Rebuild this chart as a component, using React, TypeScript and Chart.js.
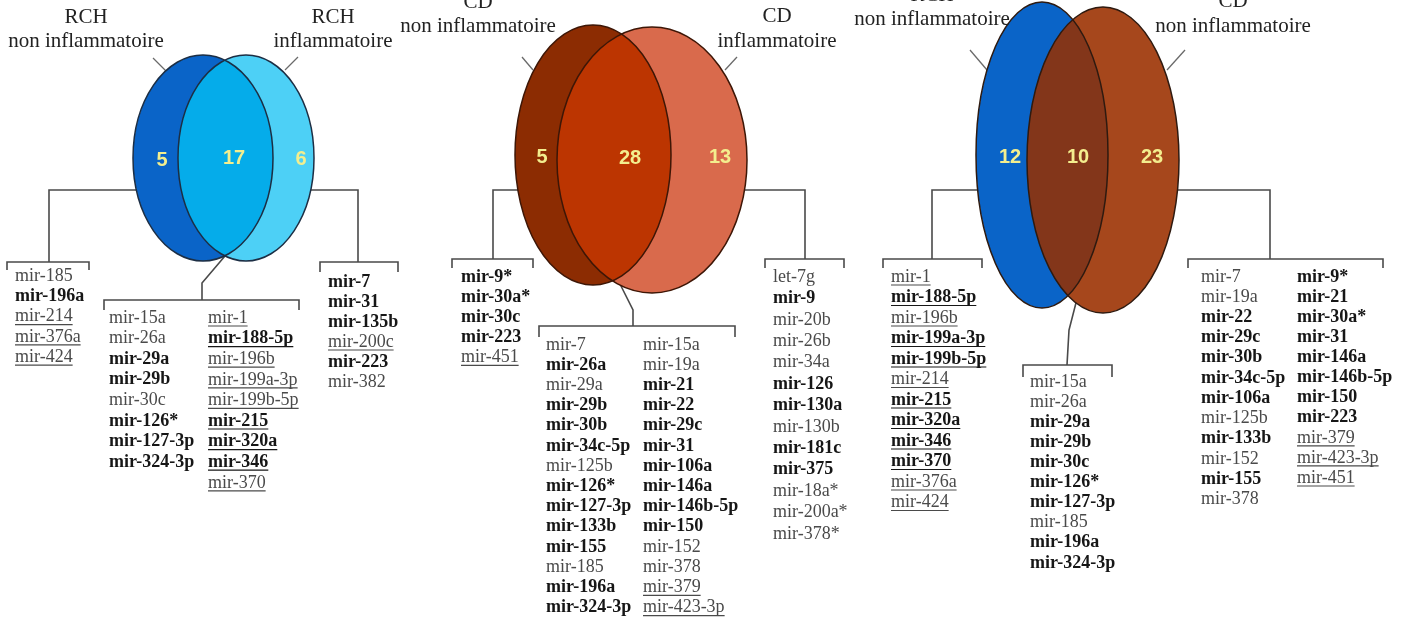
import React, { useEffect, useRef } from "react";
import { Chart, registerables } from "chart.js";
Chart.register(...registerables);

// ---------- DATA ----------
// region counts: [only A, A∩B, only B]
const p1Counts = [5, 17, 6];
const p2Counts = [5, 28, 13];
const p3Counts = [12, 10, 23];

const p1SetA = ["RCH", "non inflammatoire"];
const p1SetB = ["RCH", "inflammatoire"];
const p2SetA = ["CD", "non inflammatoire"];
const p2SetB = ["CD", "inflammatoire"];
const p3SetA = ["RCH", "non inflammatoire"];
const p3SetB = ["CD", "non inflammatoire"];

// style prefix: n = normal, b = bold, u = underlined, B = bold underlined
const p1OnlyA = ["n:mir-185", "b:mir-196a", "u:mir-214", "u:mir-376a", "u:mir-424"];
const p1BothCol1 = ["n:mir-15a", "n:mir-26a", "b:mir-29a", "b:mir-29b", "n:mir-30c", "b:mir-126*", "b:mir-127-3p", "b:mir-324-3p"];
const p1BothCol2 = ["u:mir-1", "B:mir-188-5p", "u:mir-196b", "u:mir-199a-3p", "u:mir-199b-5p", "B:mir-215", "B:mir-320a", "B:mir-346", "u:mir-370"];
const p1OnlyB = ["b:mir-7", "b:mir-31", "b:mir-135b", "u:mir-200c", "b:mir-223", "n:mir-382"];

const p2OnlyA = ["b:mir-9*", "b:mir-30a*", "b:mir-30c", "b:mir-223", "u:mir-451"];
const p2BothCol1 = ["n:mir-7", "b:mir-26a", "n:mir-29a", "b:mir-29b", "b:mir-30b", "b:mir-34c-5p", "n:mir-125b", "b:mir-126*", "b:mir-127-3p", "b:mir-133b", "b:mir-155", "n:mir-185", "b:mir-196a", "b:mir-324-3p"];
const p2BothCol2 = ["n:mir-15a", "n:mir-19a", "b:mir-21", "b:mir-22", "b:mir-29c", "b:mir-31", "b:mir-106a", "b:mir-146a", "b:mir-146b-5p", "b:mir-150", "n:mir-152", "n:mir-378", "u:mir-379", "u:mir-423-3p"];
const p2OnlyB = ["n:let-7g", "b:mir-9", "n:mir-20b", "n:mir-26b", "n:mir-34a", "b:mir-126", "b:mir-130a", "n:mir-130b", "b:mir-181c", "b:mir-375", "n:mir-18a*", "n:mir-200a*", "n:mir-378*"];

const p3OnlyA = ["u:mir-1", "B:mir-188-5p", "u:mir-196b", "B:mir-199a-3p", "B:mir-199b-5p", "u:mir-214", "B:mir-215", "B:mir-320a", "B:mir-346", "B:mir-370", "u:mir-376a", "u:mir-424"];
const p3Both = ["n:mir-15a", "n:mir-26a", "b:mir-29a", "b:mir-29b", "b:mir-30c", "b:mir-126*", "b:mir-127-3p", "n:mir-185", "b:mir-196a", "b:mir-324-3p"];
const p3OnlyBCol1 = ["n:mir-7", "n:mir-19a", "b:mir-22", "b:mir-29c", "b:mir-30b", "b:mir-34c-5p", "b:mir-106a", "n:mir-125b", "b:mir-133b", "n:mir-152", "b:mir-155", "n:mir-378"];
const p3OnlyBCol2 = ["b:mir-9*", "b:mir-21", "b:mir-30a*", "b:mir-31", "b:mir-146a", "b:mir-146b-5p", "b:mir-150", "b:mir-223", "u:mir-379", "u:mir-423-3p", "u:mir-451"];

// ---------- LAYOUT (positions / styles) ----------
type Pt = [number, number];
const panels = [
  {
    counts: p1Counts, labelA: p1SetA, labelB: p1SetB,
    ellA: { cx: 203, cy: 158, rx: 70, ry: 103 }, ellB: { cx: 246, cy: 158, rx: 68, ry: 103 },
    colA: "#0A64C8", colAB: "#05ACEA", colB: "#4DD0F6", stroke: "#1c2e44",
    countPos: [[162, 160], [234, 158], [301, 159]] as Pt[],
    labA: { x: 86, y1: 23, y2: 47 }, labB: { x: 333, y1: 23, y2: 47 },
    leadA: [[153, 58], [166, 71]] as Pt[], leadB: [[298, 57], [285, 70]] as Pt[],
    groups: [
      { conn: [[140, 190], [49, 190], [49, 262]] as Pt[], br: { x1: 7, x2: 89, y: 262, t: 8 }, cols: [{ x: 15, y0: 276, step: 20.3, items: p1OnlyA }] },
      { conn: [[305, 190], [358, 190], [358, 262]] as Pt[], br: { x1: 320, x2: 398, y: 262, t: 10 }, cols: [{ x: 328, y0: 282, step: 20, items: p1OnlyB }] },
      { conn: [[225, 256], [202, 283], [202, 300]] as Pt[], br: { x1: 104, x2: 299, y: 300, t: 10 }, cols: [{ x: 109, y0: 318, step: 20.6, items: p1BothCol1 }, { x: 208, y0: 318, step: 20.6, items: p1BothCol2 }] },
    ],
  },
  {
    counts: p2Counts, labelA: p2SetA, labelB: p2SetB,
    ellA: { cx: 593, cy: 155, rx: 78, ry: 130 }, ellB: { cx: 652, cy: 160, rx: 95, ry: 133 },
    colA: "#8C2C02", colAB: "#BC3501", colB: "#D96A4C", stroke: "#3d1606",
    countPos: [[542, 157], [630, 158], [720, 157]] as Pt[],
    labA: { x: 478, y1: 8, y2: 32 }, labB: { x: 777, y1: 22, y2: 47 },
    leadA: [[522, 57], [533, 70]] as Pt[], leadB: [[737, 57], [725, 70]] as Pt[],
    groups: [
      { conn: [[520, 190], [493, 190], [493, 259]] as Pt[], br: { x1: 452, x2: 533, y: 259, t: 9 }, cols: [{ x: 461, y0: 277, step: 20.1, items: p2OnlyA }] },
      { conn: [[740, 190], [805, 190], [805, 259]] as Pt[], br: { x1: 765, x2: 844, y: 259, t: 9 }, cols: [{ x: 773, y0: 277, step: 21.4, items: p2OnlyB }] },
      { conn: [[618, 280], [633, 310], [633, 326]] as Pt[], br: { x1: 539, x2: 735, y: 326, t: 11 }, cols: [{ x: 546, y0: 345, step: 20.2, items: p2BothCol1 }, { x: 643, y0: 345, step: 20.2, items: p2BothCol2 }] },
    ],
  },
  {
    counts: p3Counts, labelA: p3SetA, labelB: p3SetB,
    ellA: { cx: 1042, cy: 155, rx: 66, ry: 153 }, ellB: { cx: 1103, cy: 160, rx: 76, ry: 153 },
    colA: "#0A64C8", colAB: "#83361A", colB: "#A6471C", stroke: "#2e1a10",
    countPos: [[1010, 157], [1078, 157], [1152, 157]] as Pt[],
    labA: { x: 932, y1: 1, y2: 25 }, labB: { x: 1233, y1: 7, y2: 32 },
    leadA: [[970, 50], [987, 70]] as Pt[], leadB: [[1185, 50], [1167, 70]] as Pt[],
    groups: [
      { conn: [[985, 190], [932, 190], [932, 259]] as Pt[], br: { x1: 883, x2: 982, y: 259, t: 9 }, cols: [{ x: 891, y0: 277, step: 20.5, items: p3OnlyA }] },
      { conn: [[1172, 190], [1270, 190], [1270, 259]] as Pt[], br: { x1: 1188, x2: 1383, y: 259, t: 9 }, cols: [{ x: 1201, y0: 277, step: 20.2, items: p3OnlyBCol1 }, { x: 1297, y0: 277, step: 20.1, items: p3OnlyBCol2 }] },
      { conn: [[1078, 295], [1069, 330], [1067, 365]] as Pt[], br: { x1: 1023, x2: 1112, y: 365, t: 12 }, cols: [{ x: 1030, y0: 382, step: 20.1, items: p3Both }] },
    ],
  },
];

const SERIF = '"Liberation Serif", "Times New Roman", serif';
const SANS = '"Liberation Sans", Arial, sans-serif';

const vennPlugin = {
  id: "vennDraw",
  beforeDraw(chart: any) {
    const ctx = chart.ctx;
    ctx.save();
    ctx.fillStyle = "#ffffff";
    ctx.fillRect(0, 0, chart.width, chart.height);
    ctx.restore();
  },
  afterDraw(chart: any) {
    const ctx: CanvasRenderingContext2D = chart.ctx;
    const sx = chart.scales.x, sy = chart.scales.y;
    const X = (v: number) => sx.getPixelForValue(v);
    const Y = (v: number) => sy.getPixelForValue(v);
    const ellPath = (e: any) => {
      ctx.beginPath();
      ctx.ellipse(X(e.cx), Y(e.cy), Math.abs(X(e.cx + e.rx) - X(e.cx)), Math.abs(Y(e.cy + e.ry) - Y(e.cy)), 0, 0, Math.PI * 2);
    };
    const poly = (pts: Pt[]) => {
      ctx.beginPath();
      pts.forEach((p, i) => (i ? ctx.lineTo(X(p[0]), Y(p[1])) : ctx.moveTo(X(p[0]), Y(p[1]))));
      ctx.stroke();
    };

    for (const p of panels) {
      ctx.save();
      // connectors & brackets (under ellipses)
      ctx.strokeStyle = "#4a4a4a";
      ctx.lineWidth = 1.6;
      for (const g of p.groups) {
        poly(g.conn);
        const b = g.br;
        poly([[b.x1, b.y + b.t], [b.x1, b.y], [b.x2, b.y], [b.x2, b.y + b.t]]);
      }
      ctx.strokeStyle = "#6a6a6a";
      ctx.lineWidth = 1.3;
      poly(p.leadA);
      poly(p.leadB);

      // ellipses
      ctx.fillStyle = p.colA; ellPath(p.ellA); ctx.fill();
      ctx.fillStyle = p.colB; ellPath(p.ellB); ctx.fill();
      ctx.save();
      ellPath(p.ellA); ctx.clip();
      ctx.fillStyle = p.colAB; ellPath(p.ellB); ctx.fill();
      ctx.restore();
      ctx.strokeStyle = p.stroke;
      ctx.lineWidth = 1.5;
      ellPath(p.ellA); ctx.stroke();
      ellPath(p.ellB); ctx.stroke();

      // counts
      ctx.fillStyle = "#F3EE8E";
      ctx.font = `bold 20px ${SANS}`;
      ctx.textAlign = "center";
      ctx.textBaseline = "middle";
      p.counts.forEach((c, i) => ctx.fillText(String(c), X(p.countPos[i][0]), Y(p.countPos[i][1])));

      // set labels
      ctx.fillStyle = "#222";
      ctx.font = `21px ${SERIF}`;
      ctx.textBaseline = "alphabetic";
      ctx.fillText(p.labelA[0], X(p.labA.x), Y(p.labA.y1));
      ctx.fillText(p.labelA[1], X(p.labA.x), Y(p.labA.y2));
      ctx.fillText(p.labelB[0], X(p.labB.x), Y(p.labB.y1));
      ctx.fillText(p.labelB[1], X(p.labB.x), Y(p.labB.y2));

      // lists
      ctx.textAlign = "left";
      ctx.textBaseline = "middle";
      for (const g of p.groups) {
        for (const col of g.cols) {
          col.items.forEach((raw, i) => {
            const st = raw[0];
            const name = raw.slice(2);
            const bold = st === "b" || st === "B";
            const under = st === "u" || st === "B";
            ctx.font = `${bold ? "bold " : ""}18px ${SERIF}`;
            ctx.fillStyle = bold ? "#161616" : "#4a4a4a";
            const x = X(col.x), y = Y(col.y0 + i * col.step);
            ctx.fillText(name, x, y);
            if (under) {
              const w = ctx.measureText(name).width;
              ctx.strokeStyle = bold ? "#161616" : "#4a4a4a";
              ctx.lineWidth = 1.2;
              ctx.beginPath();
              ctx.moveTo(x, y + 8);
              ctx.lineTo(x + w, y + 8);
              ctx.stroke();
            }
          });
        }
      }
      ctx.restore();
    }
  },
};

export default function App() {
  const ref = useRef<HTMLCanvasElement | null>(null);
  useEffect(() => {
    document.body.style.margin = "0";
    const canvas = ref.current;
    if (!canvas) return;
    const chart = new Chart(canvas, {
      type: "scatter",
      data: { datasets: [{ data: [], pointRadius: 0 }] },
      options: {
        animation: false,
        responsive: false,
        maintainAspectRatio: false,
        layout: { padding: 0 },
        plugins: { legend: { display: false }, tooltip: { enabled: false } },
        scales: {
          x: { type: "linear", min: 0, max: 1401, display: false },
          y: { type: "linear", min: 0, max: 618, reverse: true, display: false },
        },
      },
      plugins: [vennPlugin],
    });
    return () => chart.destroy();
  }, []);
  return (
    <div style={{ width: 1401, height: 618 }}>
      <canvas ref={ref} width={1401} height={618} style={{ display: "block" }} />
    </div>
  );
}
